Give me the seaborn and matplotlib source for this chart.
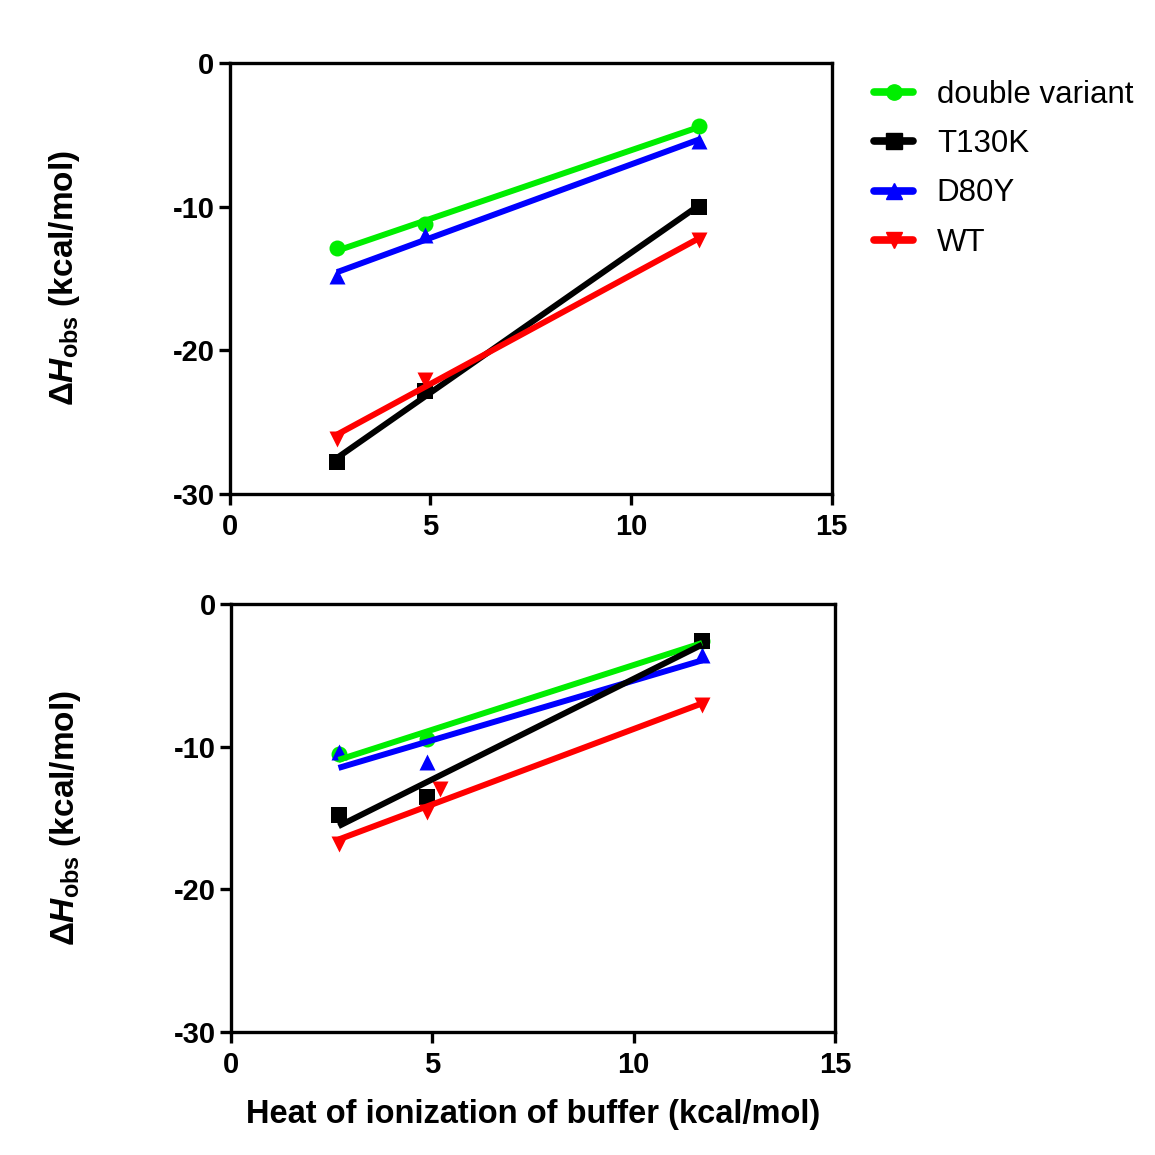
"""
Observed binding enthalpy vs. buffer heat of ionization (two panels).
"""

import numpy as np
import seaborn as sns
import matplotlib.pyplot as plt
from matplotlib.lines import Line2D


# ---------------------------------------------------------------------
# Data
# ---------------------------------------------------------------------
BUFFER_DH = [2.67, 4.87, 11.7]
BUFFER_DH_WT_BOTTOM = [2.67, 4.87, 5.2, 11.7]

VARIANTS = ["double variant", "T130K", "D80Y", "WT"]

TOP_DOUBLE = [-12.9, -11.2, -4.4]
TOP_T130K = [-27.8, -22.8, -10.0]
TOP_D80Y = [-14.8, -12.0, -5.4]
TOP_WT = [-26.2, -22.1, -12.3]

BOTTOM_DOUBLE = [-10.5, -9.5, -2.6]
BOTTOM_T130K = [-14.8, -13.5, -2.6]
BOTTOM_D80Y = [-10.4, -11.1, -3.6]
BOTTOM_WT = [-16.8, -14.6, -13.0, -7.1]

X_TICKS = [0, 5, 10, 15]
Y_TICKS = [0, -10, -20, -30]


# ---------------------------------------------------------------------
# Style
# ---------------------------------------------------------------------
sns.set_style("ticks")
plt.rcParams.update({
    "font.family": ["Liberation Sans", "DejaVu Sans"],
    "font.weight": "bold",
    "mathtext.fontset": "custom",
    "mathtext.rm": "Liberation Sans:bold",
    "mathtext.it": "Liberation Sans:bold:italic",
    "mathtext.bf": "Liberation Sans:bold",
    "axes.unicode_minus": False,
    "text.color": "black",
    "axes.labelcolor": "black",
    "axes.edgecolor": "black",
    "xtick.color": "black",
    "ytick.color": "black",
    "axes.linewidth": 2.4,
    "xtick.major.width": 2.4,
    "ytick.major.width": 2.4,
    "xtick.major.size": 8,
    "ytick.major.size": 8,
    "xtick.direction": "out",
    "ytick.direction": "out",
})

STYLES = {
    "double variant": dict(color="#00ee00", marker="o"),
    "T130K": dict(color="black", marker="s"),
    "D80Y": dict(color="#0000ff", marker="^"),
    "WT": dict(color="#ff0000", marker="v"),
}

MS = 11.5
LW = 4.3


def draw_panel(ax, series):
    """series: list of (variant, x, y) in drawing order."""
    for name, x, y in series:
        st = STYLES[name]
        sns.regplot(
            x=np.asarray(x, dtype=float),
            y=np.asarray(y, dtype=float),
            ax=ax,
            ci=None,
            color=st["color"],
            marker=st["marker"],
            scatter_kws={"s": MS ** 2, "linewidths": 0, "alpha": 1},
            line_kws={"linewidth": LW, "solid_capstyle": "butt"},
        )

    ax.set_xlim(0, 15)
    ax.set_ylim(-30, 0)
    ax.set_xticks(X_TICKS)
    ax.set_yticks(Y_TICKS)
    ax.tick_params(axis="x", labelsize=21, pad=6)
    ax.tick_params(axis="y", labelsize=21, pad=3)
    for lab in ax.get_xticklabels() + ax.get_yticklabels():
        lab.set_fontweight("bold")
    ax.set_ylabel(r"$\Delta\mathit{H}_{\mathrm{obs}}$ (kcal/mol)",
                  fontsize=24, fontweight="bold", labelpad=65)
    ax.set_xlabel("")
    for sp in ax.spines.values():
        sp.set_visible(True)


fig = plt.figure(figsize=(11.55, 11.55), dpi=100)
ax_top = fig.add_axes([0.199, 0.5723, 0.521, 0.3732])
ax_bot = fig.add_axes([0.200, 0.1065, 0.523, 0.3706])

draw_panel(ax_top, [
    ("double variant", BUFFER_DH, TOP_DOUBLE),
    ("D80Y", BUFFER_DH, TOP_D80Y),
    ("T130K", BUFFER_DH, TOP_T130K),
    ("WT", BUFFER_DH, TOP_WT),
])

draw_panel(ax_bot, [
    ("double variant", BUFFER_DH, BOTTOM_DOUBLE),
    ("D80Y", BUFFER_DH, BOTTOM_D80Y),
    ("T130K", BUFFER_DH, BOTTOM_T130K),
    ("WT", BUFFER_DH_WT_BOTTOM, BOTTOM_WT),
])

ax_bot.set_xlabel("Heat of ionization of buffer (kcal/mol)",
                  fontsize=23.5, fontweight="bold", labelpad=14)

handles = [
    Line2D([], [], color=STYLES[v]["color"], marker=STYLES[v]["marker"],
           markersize=11, linewidth=5.5, label=v)
    for v in VARIANTS
]
fig.legend(
    handles=handles,
    loc="upper left",
    bbox_to_anchor=(0.757, 0.931),
    frameon=False,
    borderpad=0,
    borderaxespad=0,
    handlelength=1.25,
    handletextpad=0.75,
    labelspacing=0.62,
    prop={"size": 22.5, "weight": "normal"},
)

fig.savefig("out.png", dpi=100, facecolor="white")
